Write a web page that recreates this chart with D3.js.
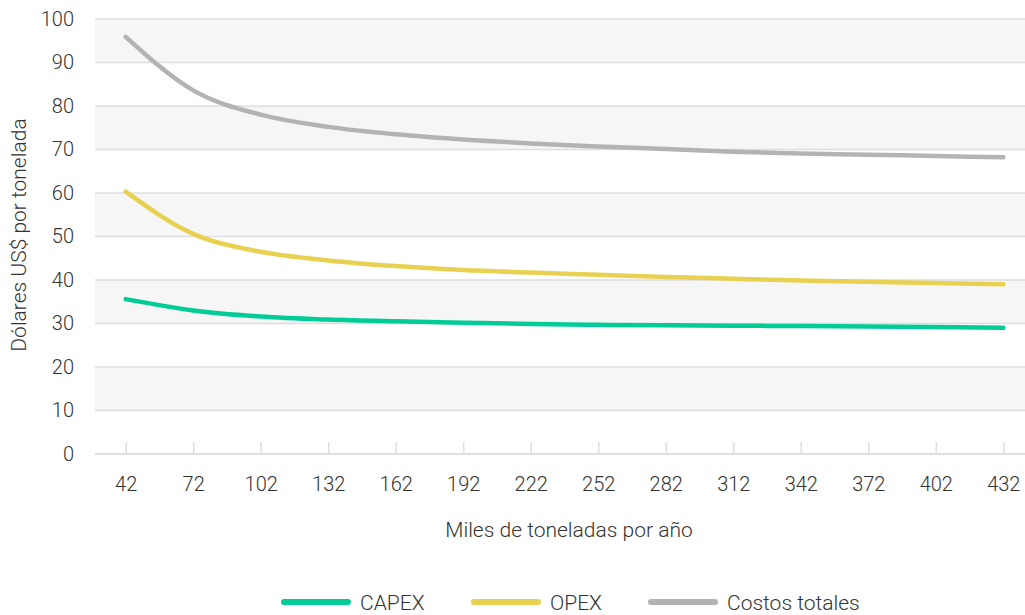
<!DOCTYPE html>
<html>
<head>
<meta charset="utf-8">
<script src="https://cdn.jsdelivr.net/npm/d3@7"></script>
<style>
  html, body { margin: 0; padding: 0; background: #fff; }
  svg { display: block; font-family: Roboto, "Noto Sans", sans-serif; font-weight: 300; }
</style>
</head>
<body>
<svg id="chart" width="1025" height="615"></svg>
<script>
// Capacidad de planta (miles de toneladas por año)
const capacidad = [42, 72, 102, 132, 162, 192, 222, 252, 282, 312, 342, 372, 402, 432];
// Costos en dólares US$ por tonelada
const capex = [35.6, 33.0, 31.6, 30.9, 30.5, 30.2, 29.9, 29.7, 29.6, 29.5, 29.4, 29.3, 29.2, 29.0];
const opex  = [60.3, 50.6, 46.5, 44.5, 43.2, 42.3, 41.7, 41.2, 40.7, 40.3, 39.9, 39.6, 39.3, 39.0];
const costosTotales = [95.9, 83.6, 78.0, 75.2, 73.5, 72.3, 71.4, 70.7, 70.1, 69.5, 69.1, 68.8, 68.5, 68.2];
const yTicks = [0, 10, 20, 30, 40, 50, 60, 70, 80, 90, 100];

const series = [
  { name: "CAPEX", values: capex, color: "#00cc96" },
  { name: "OPEX", values: opex, color: "#e8d150" },
  { name: "Costos totales", values: costosTotales, color: "#b3b3b4" }
];

const svg = d3.select("#chart");
const plot = { left: 95, right: 1025, top: 19, bottom: 454 };

const x = d3.scaleLinear().domain([42, 432]).range([125.7, 1003.3]);
const y = d3.scaleLinear().domain([0, 100]).range([plot.bottom, plot.top]);

// alternating background bands
const bands = d3.range(10, 100, 20);
svg.append("g").selectAll("rect").data(bands).join("rect")
  .attr("x", plot.left)
  .attr("width", plot.right - plot.left)
  .attr("y", d => y(d + 10))
  .attr("height", d => y(d) - y(d + 10))
  .attr("fill", "#f6f6f6");

// horizontal gridlines
svg.append("g").selectAll("line").data(yTicks.filter(d => d > 0)).join("line")
  .attr("x1", plot.left).attr("x2", plot.right)
  .attr("y1", d => y(d)).attr("y2", d => y(d))
  .attr("stroke", "#dedede").attr("stroke-width", 1.5);

// y axis labels
const yAxis = svg.append("g")
  .attr("transform", `translate(${plot.left},0)`)
  .call(d3.axisLeft(y).tickValues(yTicks).tickSize(0).tickPadding(21));
yAxis.select(".domain").remove();
yAxis.selectAll("text")
  .attr("font-family", "Roboto, sans-serif").attr("font-weight", 300)
  .attr("font-size", 20).attr("fill", "#333");

// x axis
const xAxis = svg.append("g")
  .attr("transform", `translate(0,${plot.bottom})`)
  .call(d3.axisTop(x).tickValues(capacidad).tickSize(12).tickFormat(d3.format("d")));
xAxis.select(".domain").attr("d", `M${plot.left},0H${plot.right}`)
  .attr("stroke", "#dedede").attr("stroke-width", 2);
xAxis.selectAll(".tick line").attr("stroke", "#dedede").attr("stroke-width", 1.5);
xAxis.selectAll("text")
  .attr("y", 36.5).attr("dy", 0)
  .attr("font-family", "Roboto, sans-serif").attr("font-weight", 300)
  .attr("font-size", 20).attr("fill", "#333");

// lines
const line = d3.line()
  .x((d, i) => x(capacidad[i]))
  .y(d => y(d))
  .curve(d3.curveMonotoneX);

svg.append("g").selectAll("path").data(series).join("path")
  .attr("d", s => line(s.values))
  .attr("fill", "none")
  .attr("stroke", s => s.color)
  .attr("stroke-width", 4.5)
  .attr("stroke-linecap", "round")
  .attr("stroke-linejoin", "round");

// axis titles
svg.append("text")
  .attr("x", 569).attr("y", 537)
  .attr("text-anchor", "middle")
  .attr("font-size", 21).attr("fill", "#333")
  .text("Miles de toneladas por año");

svg.append("text")
  .attr("transform", "translate(26,235) rotate(-90)")
  .attr("text-anchor", "middle")
  .attr("font-size", 21).attr("fill", "#333")
  .text("Dólares US$ por tonelada");

// legend
const legendX = [284, 474, 651];
const legend = svg.append("g").selectAll("g").data(series).join("g")
  .attr("transform", (d, i) => `translate(${legendX[i]},602)`);
legend.append("line")
  .attr("x1", 0).attr("x2", 64)
  .attr("stroke", d => d.color).attr("stroke-width", 6)
  .attr("stroke-linecap", "round");
legend.append("text")
  .attr("x", 76).attr("y", 8)
  .attr("font-size", 21).attr("fill", "#333")
  .text(d => d.name);
</script>
</body>
</html>
